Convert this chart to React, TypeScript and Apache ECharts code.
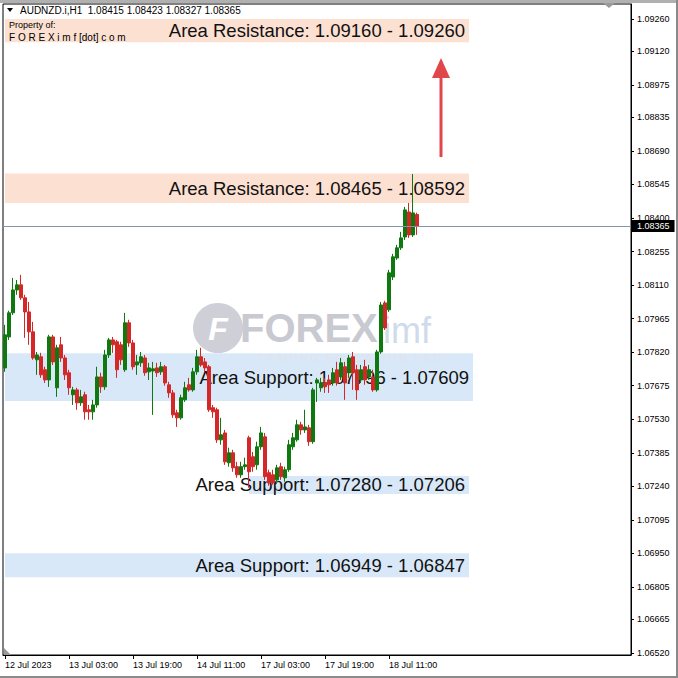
import React, { useEffect, useRef } from "react";
import * as echarts from "echarts";

// ---- data ----
const tickLabels = ["12 Jul 2023", "13 Jul 03:00", "13 Jul 19:00", "14 Jul 11:00", "17 Jul 03:00", "17 Jul 19:00", "18 Jul 11:00"];
const priceTicks = [1.0926, 1.0912, 1.08975, 1.08835, 1.0869, 1.08545, 1.084, 1.08255, 1.0811, 1.07965, 1.0782, 1.07675, 1.0753, 1.07385, 1.0724, 1.07095, 1.0695, 1.06805, 1.06665, 1.0652];
const slotCount = 157;
const currentPrice = 1.08365;
const headerText = "AUDNZD.i,H1  1.08415 1.08423 1.08327 1.08365";

// [open, close, low, high]
const ohlc: number[][] = [
  [1.07752, 1.07895, 1.07735, 1.07938],
  [1.07886, 1.0799, 1.07873, 1.07999],
  [1.0799, 1.08089, 1.07981, 1.08141],
  [1.08089, 1.08111, 1.08068, 1.08132],
  [1.08111, 1.08055, 1.08046, 1.08154],
  [1.08055, 1.07994, 1.07882, 1.08068],
  [1.07994, 1.07908, 1.07852, 1.08037],
  [1.07908, 1.07795, 1.07787, 1.07951],
  [1.07787, 1.07808, 1.07722, 1.07821],
  [1.078, 1.07722, 1.07709, 1.07817],
  [1.07744, 1.077, 1.07687, 1.07757],
  [1.077, 1.07886, 1.0767, 1.07895],
  [1.07886, 1.07778, 1.07765, 1.07895],
  [1.07666, 1.07839, 1.07627, 1.07852],
  [1.07852, 1.07795, 1.07778, 1.07886],
  [1.07795, 1.07722, 1.077, 1.07808],
  [1.07731, 1.07666, 1.07636, 1.07744],
  [1.07636, 1.07657, 1.07592, 1.0767],
  [1.07657, 1.07601, 1.07571, 1.07666],
  [1.07601, 1.07627, 1.07588, 1.07657],
  [1.07636, 1.07562, 1.07528, 1.07649],
  [1.07571, 1.07562, 1.07528, 1.07592],
  [1.07562, 1.07592, 1.07528, 1.07614],
  [1.07592, 1.07713, 1.0758, 1.07757],
  [1.07713, 1.0767, 1.07644, 1.07731],
  [1.0767, 1.07808, 1.07657, 1.0783],
  [1.07808, 1.07873, 1.07795, 1.07882],
  [1.07873, 1.07852, 1.07817, 1.07886],
  [1.07865, 1.07744, 1.07709, 1.07873],
  [1.07852, 1.07787, 1.07765, 1.07865],
  [1.07744, 1.07947, 1.07735, 1.0799],
  [1.07947, 1.0786, 1.07843, 1.0796],
  [1.0786, 1.07757, 1.07744, 1.07873],
  [1.07765, 1.07778, 1.07722, 1.07808],
  [1.07774, 1.078, 1.07757, 1.07821],
  [1.07795, 1.07731, 1.07718, 1.07808],
  [1.07735, 1.07752, 1.077, 1.07774],
  [1.07739, 1.07748, 1.07549, 1.07778],
  [1.07752, 1.07731, 1.07713, 1.07774],
  [1.07735, 1.07757, 1.07722, 1.07778],
  [1.07757, 1.07687, 1.07675, 1.07765],
  [1.07679, 1.07644, 1.07623, 1.07692],
  [1.07644, 1.07549, 1.07536, 1.07657],
  [1.07558, 1.07536, 1.07497, 1.07571],
  [1.07536, 1.07623, 1.07528, 1.07636],
  [1.07614, 1.07666, 1.07605, 1.07692],
  [1.07679, 1.07657, 1.07649, 1.07709],
  [1.07657, 1.07735, 1.07649, 1.07752],
  [1.07735, 1.078, 1.07722, 1.0783],
  [1.078, 1.07765, 1.07757, 1.07839],
  [1.07778, 1.07752, 1.07735, 1.07795],
  [1.07757, 1.07571, 1.07562, 1.07765],
  [1.0758, 1.07562, 1.07536, 1.07592],
  [1.07571, 1.07441, 1.07428, 1.0758],
  [1.07441, 1.07463, 1.0742, 1.07536],
  [1.07471, 1.07346, 1.07333, 1.07484],
  [1.07342, 1.07385, 1.07325, 1.07407],
  [1.07385, 1.0732, 1.07303, 1.07398],
  [1.07325, 1.0729, 1.07277, 1.07346],
  [1.0729, 1.07325, 1.07277, 1.07346],
  [1.07325, 1.07333, 1.07312, 1.07364],
  [1.0745, 1.07303, 1.07234, 1.07459],
  [1.07368, 1.07325, 1.07303, 1.07389],
  [1.07333, 1.07411, 1.07312, 1.07433],
  [1.07411, 1.07471, 1.07398, 1.07497],
  [1.07454, 1.07282, 1.07268, 1.07471],
  [1.07299, 1.07255, 1.07243, 1.07312],
  [1.0729, 1.07255, 1.07247, 1.07312],
  [1.07268, 1.0732, 1.07251, 1.07333],
  [1.07325, 1.07282, 1.07268, 1.07342],
  [1.07277, 1.07312, 1.0726, 1.07325],
  [1.07312, 1.0742, 1.07303, 1.07441],
  [1.07411, 1.0745, 1.07398, 1.07471],
  [1.07441, 1.07506, 1.07433, 1.07528],
  [1.07506, 1.07484, 1.07463, 1.07519],
  [1.07484, 1.07497, 1.07471, 1.07571],
  [1.07493, 1.07433, 1.07415, 1.07506],
  [1.07433, 1.07657, 1.07424, 1.07666],
  [1.07687, 1.077, 1.07605, 1.07709],
  [1.07666, 1.07687, 1.07649, 1.07709],
  [1.07687, 1.0767, 1.07644, 1.07709],
  [1.077, 1.07679, 1.07644, 1.07722],
  [1.07687, 1.07731, 1.07675, 1.07752],
  [1.07744, 1.07687, 1.07675, 1.07778],
  [1.07713, 1.07774, 1.077, 1.07795],
  [1.07757, 1.07687, 1.07614, 1.07778],
  [1.07731, 1.07795, 1.07709, 1.07808],
  [1.078, 1.07731, 1.07657, 1.07821],
  [1.07744, 1.07657, 1.07614, 1.07765],
  [1.077, 1.07744, 1.07687, 1.07765],
  [1.07757, 1.077, 1.07679, 1.07787],
  [1.07713, 1.07744, 1.077, 1.07765],
  [1.07713, 1.07657, 1.07649, 1.07744],
  [1.07657, 1.07821, 1.07649, 1.0783],
  [1.07821, 1.08024, 1.07813, 1.08037],
  [1.08033, 1.07925, 1.07916, 1.08042],
  [1.08003, 1.08163, 1.07994, 1.08176],
  [1.08145, 1.08232, 1.08132, 1.08245],
  [1.08227, 1.08271, 1.08219, 1.08284],
  [1.08271, 1.08314, 1.08262, 1.0834],
  [1.08318, 1.08435, 1.08305, 1.08448],
  [1.08426, 1.08327, 1.08314, 1.08465],
  [1.08327, 1.08422, 1.08318, 1.0859],
  [1.08415, 1.08365, 1.08327, 1.08423],
];

// zones (support / resistance areas)
const zoneTop = [1.0926, 1.08592, 1.07815, 1.07285, 1.06951];
const zoneBottom = [1.0916, 1.08465, 1.07609, 1.07207, 1.06847];
const zoneStart = [0, 0, 0, 61, 0];
const zoneEnd = [116, 116, 117, 116, 116];
const zoneKind = ["res", "res", "sup", "sup", "sup"];
const zoneText = [
  "Area Resistance: 1.09160 - 1.09260",
  "Area Resistance: 1.08465 - 1.08592",
  "Area Support: 1.07796 - 1.07609",
  "Area Support: 1.07280 - 1.07206",
  "Area Support: 1.06949 - 1.06847",
];

const UP = "#0f780f";
const DOWN = "#d42828";
const RES_FILL = "#fce0d1";
const SUP_FILL = "#d8e8f8";
const FONT = "Liberation Sans, Arial, sans-serif";

export default function App() {
  const ref = useRef<HTMLDivElement>(null);
  useEffect(() => {
    if (!ref.current) return;
    const chart = echarts.init(ref.current, null, { renderer: "svg" });
    const categories = Array.from({ length: slotCount }, (_, i) => "b" + i);
    const showTick = (idx: number) => idx % 16 === 0 && idx / 16 < tickLabels.length;

    const areaData = zoneTop.map((t, k) => [
      {
        xAxis: zoneStart[k],
        yAxis: t,
        itemStyle: { color: zoneKind[k] === "res" ? RES_FILL : SUP_FILL },
      },
      { xAxis: zoneEnd[k], yAxis: zoneBottom[k] },
    ]);
    const labelData = zoneTop.map((t, k) => [
      {
        name: zoneText[k],
        xAxis: zoneStart[k],
        yAxis: t,
      },
      { xAxis: zoneEnd[k], yAxis: zoneBottom[k] },
    ]);

    chart.setOption({
      animation: false,
      backgroundColor: "#ffffff",
      grid: {
        left: 3,
        top: 4,
        width: slotCount * 4,
        bottom: 23,
        show: true,
        borderColor: "#000",
        borderWidth: 1,
        backgroundColor: "#fff",
      },
      xAxis: {
        type: "category",
        data: categories,
        boundaryGap: true,
        axisLine: { show: true, lineStyle: { color: "#000", width: 1 } },
        axisTick: {
          show: true,
          alignWithLabel: true,
          interval: (idx: number) => showTick(idx),
          length: 4,
          lineStyle: { color: "#000" },
        },
        axisLabel: {
          interval: (idx: number) => showTick(idx),
          formatter: (_v: string, idx: number) => tickLabels[idx / 16] ?? "",
          align: "left",
          margin: 5,
          fontSize: 9,
          fontFamily: FONT,
          color: "#000",
        },
        splitLine: { show: false },
      },
      yAxis: {
        type: "value",
        position: "right",
        min: 1.06511,
        max: 1.09325,
        scale: true,
        axisLine: { show: true, lineStyle: { color: "#000", width: 1 } },
        axisTick: { show: true, length: 3, customValues: priceTicks, lineStyle: { color: "#000" } },
        axisLabel: {
          customValues: priceTicks,
          formatter: (v: number) => v.toFixed(5),
          fontSize: 9,
          fontFamily: FONT,
          color: "#000",
          margin: 6,
        },
        splitLine: { show: false },
      },
      series: [
        {
          type: "line",
          data: [],
          z: 1,
          silent: true,
          markArea: {
            silent: true,
            label: { show: false },
            data: areaData,
          },
        },
        {
          type: "line",
          data: [],
          z: 2,
          silent: true,
          markLine: {
            silent: true,
            precision: 5,
            symbol: ["none", "none"],
            lineStyle: { color: "#8594a5", width: 1, type: "solid" },
            label: {
              show: true,
              position: "end",
              distance: 1,
              formatter: () => currentPrice.toFixed(5),
              backgroundColor: "#000",
              color: "#fff",
              padding: [2, 5, 1, 5],
              fontSize: 9,
              fontFamily: FONT,
            },
            data: [{ yAxis: currentPrice }],
          },
        },
        {
          type: "candlestick",
          data: ohlc,
          z: 3,
          barWidth: 3,
          itemStyle: {
            color: UP,
            color0: DOWN,
            borderColor: UP,
            borderColor0: DOWN,
            borderWidth: 1,
          },
        },
        {
          type: "line",
          data: [],
          z: 5,
          silent: true,
          markArea: {
            silent: true,
            itemStyle: { color: "rgba(0,0,0,0)" },
            label: {
              show: true,
              position: "insideRight",
              distance: 4,
              fontSize: 18.5,
              fontFamily: FONT,
              color: "#111",
            },
            data: labelData,
          },
        },
      ],
      graphic: [
        { type: "rect", shape: { x: 0, y: 0, width: 678, height: 3 }, style: { fill: "#b0b0b0" }, z: 10 },
        { type: "rect", shape: { x: 676, y: 0, width: 2, height: 678 }, style: { fill: "#8a8a8a" }, z: 10 },
        { type: "rect", shape: { x: 0, y: 676, width: 678, height: 2 }, style: { fill: "#8a8a8a" }, z: 10 },
        { type: "polygon", shape: { points: [[603, 3], [615, 3], [609, 8]] }, style: { fill: "#9a9a9a" }, z: 10 },
        { type: "polygon", shape: { points: [[4, 648], [4, 655], [11, 655]] }, style: { fill: "#9a9a9a" }, z: 10 },
        // watermark
        {
          type: "group",
          z: 2,
          children: [
            { type: "circle", shape: { cx: 218, cy: 328, r: 25 }, style: { fill: "#cfd0d7" }, z: 2 },
            {
              type: "text",
              x: 218,
              y: 329,
              style: { text: "F", fill: "#ffffff", font: "italic bold 32px Liberation Sans, Arial", align: "center", verticalAlign: "middle" },
              z: 2,
            },
            {
              type: "text",
              x: 240,
              y: 328,
              style: { text: "FOREX", fill: "#c8c9d1", font: "bold 40px Liberation Sans, Arial", verticalAlign: "middle" },
              z: 2,
            },
            {
              type: "text",
              x: 383,
              y: 330,
              style: { text: "imf", fill: "#cfdbea", font: "36px Liberation Sans, Arial", verticalAlign: "middle" },
              z: 2,
            },
            {
              type: "text",
              x: 258,
              y: 358,
              style: { text: "T R A D I N G   E D U C A T I O N   P R O", fill: "#e2e3ea", font: "10px Liberation Sans, Arial", verticalAlign: "middle" },
              z: 2,
            },
          ],
        },
        // arrow
        { type: "line", shape: { x1: 441, y1: 72, x2: 441, y2: 157 }, style: { stroke: "#e0474b", lineWidth: 3 }, z: 6 },
        { type: "polygon", shape: { points: [[441, 58], [432, 78], [450, 78]] }, style: { fill: "#e0474b" }, z: 6 },
        // header
        { type: "polygon", shape: { points: [[7, 8], [13, 8], [10, 12]] }, style: { fill: "#000" }, z: 10 },
        {
          type: "text",
          x: 20,
          y: 10,
          style: { text: headerText, fill: "#000", font: "10px Liberation Sans, Arial", verticalAlign: "middle" },
          z: 10,
        },
        {
          type: "text",
          x: 9,
          y: 25,
          style: { text: "Property of:", fill: "#000", font: "9px Liberation Sans, Arial", verticalAlign: "middle" },
          z: 10,
        },
        {
          type: "text",
          x: 9,
          y: 37,
          style: { text: "F O R E X i m f [dot] c o m", fill: "#000", font: "10px Liberation Sans, Arial", verticalAlign: "middle" },
          z: 10,
        },
      ],
    });
    return () => chart.dispose();
  }, []);
  return <div ref={ref} style={{ position: "fixed", left: 0, top: 0, width: 678, height: 678 }} />;
}
